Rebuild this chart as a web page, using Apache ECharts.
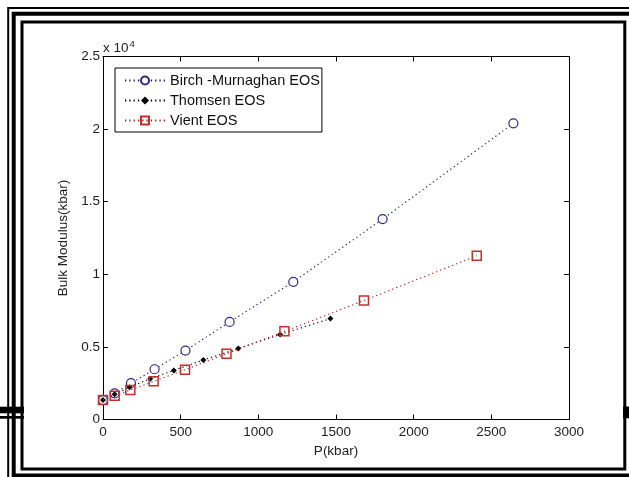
<!DOCTYPE html>
<html>
<head>
<meta charset="utf-8">
<script src="https://cdn.jsdelivr.net/npm/echarts@6/dist/echarts.min.js"></script>
<style>
html,body{margin:0;padding:0;background:#fff;}
#chart{width:629px;height:477px;}
</style>
</head>
<body>
<div id="chart"></div>
<script>
// Data (P in kbar, Bulk modulus in kbar)
const birchP = [0, 75, 180, 332, 531, 815, 1225, 1800, 2642];
const birchB = [1340, 1800, 2500, 3460, 4750, 6720, 9480, 13800, 20400];
const thomsenP = [0, 75, 171, 304, 456, 646, 871, 1140, 1464];
const thomsenB = [1340, 1740, 2220, 2810, 3380, 4100, 4890, 5850, 6950];
const vientP = [0, 75, 176, 326, 528, 795, 1168, 1680, 2406];
const vientB = [1340, 1640, 2030, 2630, 3430, 4530, 6070, 8190, 11280];
const seriesNames = ['Birch -Murnaghan EOS', 'Thomsen EOS', 'Vient EOS'];
const xTicks = [0, 500, 1000, 1500, 2000, 2500, 3000];
const yTicks = [0, 5000, 10000, 15000, 20000, 25000];

function pairs(xs, ys) { return xs.map((x, i) => [x, ys[i]]); }

const FONT = 'Liberation Sans, Arial, sans-serif';
const chart = echarts.init(document.getElementById('chart'), null, {renderer: 'canvas'});

const axisCommon = {
  axisLine: {show: true, onZero: false, lineStyle: {color: '#000', width: 1}},
  axisTick: {show: true, inside: true, length: 5, lineStyle: {color: '#000'}},
  splitLine: {show: false}
};

chart.setOption({
  backgroundColor: '#fff',
  animation: false,
  grid: {left: 103, right: 60, top: 56.5, bottom: 57.5},
  legend: {
    data: seriesNames,
    orient: 'vertical',
    left: 115, top: 68,
    itemWidth: 40, itemHeight: 10, itemGap: 5,
    padding: [5, 2, 4, 9],
    borderColor: '#000', borderWidth: 1,
    backgroundColor: '#fff',
    textStyle: {fontFamily: FONT, fontSize: 14.5, color: '#111'}
  },
  xAxis: [
    Object.assign({}, axisCommon, {
      type: 'value', min: xTicks[0], max: xTicks[xTicks.length - 1], interval: 500,
      position: 'bottom',
      name: 'P(kbar)', nameLocation: 'middle', nameGap: 25,
      nameTextStyle: {fontFamily: FONT, fontSize: 13.5, color: '#222'},
      axisLabel: {fontFamily: FONT, fontSize: 13.5, color: '#222', margin: 6,
        formatter: v => String(v)}
    }),
    Object.assign({}, axisCommon, {
      type: 'value', min: xTicks[0], max: xTicks[xTicks.length - 1], interval: 500,
      position: 'top', axisLabel: {show: false}
    })
  ],
  yAxis: [
    Object.assign({}, axisCommon, {
      type: 'value', min: yTicks[0], max: yTicks[yTicks.length - 1], interval: 5000,
      position: 'left',
      name: 'Bulk Modulus(kbar)', nameLocation: 'middle', nameGap: 33,
      nameTextStyle: {fontFamily: FONT, fontSize: 13.5, color: '#222'},
      axisLabel: {fontFamily: FONT, fontSize: 13.5, color: '#222', margin: 3,
        formatter: v => String(v / 10000)}
    }),
    Object.assign({}, axisCommon, {
      type: 'value', min: yTicks[0], max: yTicks[yTicks.length - 1], interval: 5000,
      position: 'right', axisLabel: {show: false}
    })
  ],
  series: [
    {
      name: seriesNames[0], type: 'line', data: pairs(birchP, birchB),
      symbol: 'circle', symbolSize: 9,
      lineStyle: {color: '#1c1c6e', width: 1.1, type: [1.3, 3]},
      itemStyle: {color: '#fff', borderColor: '#2a2a8a', borderWidth: 1.2},
      z: 2
    },
    {
      name: seriesNames[1], type: 'line', data: pairs(thomsenP, thomsenB),
      symbol: 'diamond', symbolSize: 6,
      lineStyle: {color: '#000', width: 1.1, type: [1.3, 3]},
      itemStyle: {color: '#000', borderColor: '#000', borderWidth: 0},
      z: 3
    },
    {
      name: seriesNames[2], type: 'line', data: pairs(vientP, vientB),
      symbol: 'rect', symbolSize: 9,
      lineStyle: {color: '#a02828', width: 1.1, type: [1.3, 3]},
      itemStyle: {color: 'rgba(255,255,255,0)', borderColor: '#c0302c', borderWidth: 1.5},
      z: 4
    }
  ],
  graphic: [
    {type: 'text', left: 103, top: 39, z: 10,
      style: {text: '{a|x 10}{s|4}', rich: {
        a: {fontFamily: FONT, fontSize: 13.5, fill: '#222', verticalAlign: 'bottom', lineHeight: 16},
        s: {fontFamily: FONT, fontSize: 9.5, fill: '#222', verticalAlign: 'top', lineHeight: 16, padding: [0, 0, 8, 1]}
      }}},
    // decorative frame
    {type: 'rect', shape: {x: 8.2, y: 8, width: 700, height: 700}, style: {fill: 'none', stroke: '#000', lineWidth: 2}, z: 20, silent: true},
    {type: 'rect', shape: {x: 13.7, y: 13.8, width: 700, height: 461.7}, style: {fill: 'none', stroke: '#000', lineWidth: 4}, z: 20, silent: true},
    {type: 'rect', shape: {x: 22, y: 22, width: 602.8, height: 447}, style: {fill: 'none', stroke: '#000', lineWidth: 3}, z: 20, silent: true},
    {type: 'rect', shape: {x: 0, y: 406.7, width: 24, height: 6.6}, style: {fill: '#000'}, z: 21, silent: true},
    {type: 'rect', shape: {x: 0, y: 416, width: 24, height: 2.7}, style: {fill: '#000'}, z: 21, silent: true},
    {type: 'rect', shape: {x: 623, y: 406.5, width: 6, height: 11.8}, style: {fill: '#000'}, z: 21, silent: true}
  ]
});
</script>
</body>
</html>
